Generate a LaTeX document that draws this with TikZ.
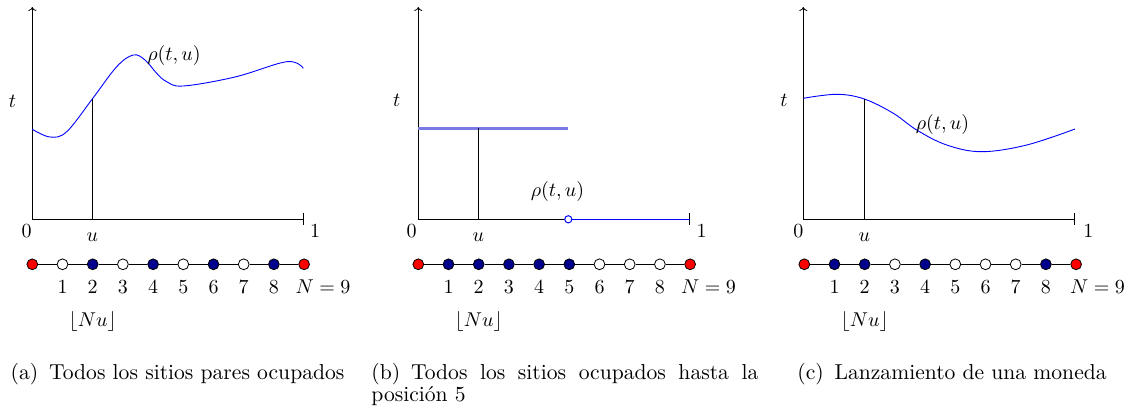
\documentclass[tikz,border=0pt]{standalone}
\usetikzlibrary{arrows.meta}
\definecolor{navy}{rgb}{0,0,0.55}
\definecolor{lightblue}{rgb}{0.48,0.48,0.9}
\begin{document}
\begin{tikzpicture}[x=0.5pt,y=-0.5pt,
  axis/.style={line width=0.4pt},
  xaxis/.style={line width=0.4pt,-{Bar[width=6pt]}},
  yaxis/.style={line width=0.4pt,-{To[length=2pt,width=4pt]}},
  rho/.style={blue,line width=0.45pt},
  site/.style={circle,draw=black,line width=0.4pt,minimum size=5.4pt,inner sep=0pt},
  occ/.style={site,fill=navy},
  emp/.style={site,fill=white},
  bnd/.style={site,fill=red},
  lab/.style={inner sep=1pt},
  captext/.style={inner sep=0pt,anchor=base,font=\fontsize{10.8}{13}\selectfont}
]
\useasboundingbox (0,0) rectangle (1124,413);

% ================= panel (a) =================
\coordinate (Oa) at (32.3,219.3);
\coordinate (Ya) at (32.3,7);
\coordinate (Xa) at (304,219.3);
\draw[yaxis] (Oa) -- (Ya);
\draw[xaxis] (Oa) -- (Xa);
\draw[rho] plot[smooth,tension=0.6] coordinates {(32.3,129.3) (50,137) (66.7,131.7) (92.3,99) (116.7,66.7) (133.3,55) (145,60) (156.7,73.3) (166.7,81.7) (183.3,86) (235,77) (286.7,61.7) (303.3,68.3)};
\coordinate (ua) at (92.3,219.3);
\coordinate (pa) at (92.3,99);
\draw[axis] (ua) -- (pa);
\node[lab] (ta) at (12.5,101) {$t$};
\node[lab] (ra) at (174,55) {$\rho(t,u)$};
\node[lab] (za) at (26.7,231) {$0$};
\node[lab] (oa) at (315,231) {$1$};
\node[lab] (uLa) at (92.3,237) {$u$};
\foreach \i/\s in {0/bnd,1/emp,2/occ,3/emp,4/occ,5/emp,6/occ,7/emp,8/occ,9/bnd}
  \node[\s] (a\i) at ({32.3+30.2*\i},264.3) {};
\foreach \i [evaluate=\i as \j using int(\i+1)] in {0,...,8}
  \draw[axis] (a\i) -- (a\j);
\foreach \i in {1,...,8}
  \node[lab] (na\i) at ({32.3+30.2*\i},286.7) {$\i$};
\node[lab] (nNa) at (323,286.7) {$N=9$};
\node[lab] (fa) at (92.7,321.7) {$\lfloor Nu\rfloor$};
\node[captext] (ca) at (177.5,379) {(a)\enspace Todos los sitios pares ocupados};

% ================= panel (b) =================
\coordinate (Ob) at (418.3,219.3);
\coordinate (Yb) at (418.3,7);
\coordinate (Xb) at (690,219.3);
\draw[yaxis] (Ob) -- (Yb);
\draw[xaxis] (Ob) -- (Xb);
\coordinate (hb0) at (418.3,128.3);
\coordinate (hb1) at (568.3,128.3);
\draw[lightblue,line width=1.4pt] (hb0) -- (hb1);
\coordinate (ub) at (478.3,219.3);
\coordinate (pb) at (478.3,128.3);
\draw[axis] (ub) -- (pb);
\node[circle,draw=blue,fill=white,line width=0.5pt,minimum size=3.6pt,inner sep=0pt] (cb) at (568.3,219.3) {};
\draw[rho] (cb) -- (Xb);
\node[lab] (tb) at (396.7,100) {$t$};
\node[lab] (rb) at (557.5,191) {$\rho(t,u)$};
\node[lab] (zb) at (411.7,231) {$0$};
\node[lab] (ob) at (701.7,231) {$1$};
\node[lab] (uLb) at (478.3,237) {$u$};
\foreach \i/\s in {0/bnd,1/occ,2/occ,3/occ,4/occ,5/occ,6/emp,7/emp,8/emp,9/bnd}
  \node[\s] (b\i) at ({418.3+30.2*\i},264.3) {};
\foreach \i [evaluate=\i as \j using int(\i+1)] in {0,...,8}
  \draw[axis] (b\i) -- (b\j);
\foreach \i in {1,...,8}
  \node[lab] (nb\i) at ({418.3+30.2*\i},286.7) {$\i$};
\node[lab] (nNb) at (708.5,286.7) {$N=9$};
\node[lab] (fb) at (478.7,321.7) {$\lfloor Nu\rfloor$};
\node[inner sep=0pt,anchor=base west,text width=193.5pt,align=justify,font=\fontsize{10.8}{11}\selectfont] (cbb) at (371,379)
  {(b)\enspace Todos los sitios ocupados hasta la\linebreak posición 5};

% ================= panel (c) =================
\coordinate (Oc) at (803.3,219.3);
\coordinate (Yc) at (803.3,7);
\coordinate (Xc) at (1075,219.3);
\draw[yaxis] (Oc) -- (Yc);
\draw[xaxis] (Oc) -- (Xc);
\draw[rho] plot[smooth,tension=0.6] coordinates {(803.3,98.3) (836.7,94.3) (864.3,99) (893.3,113.3) (916.7,130) (946.7,145) (981.7,151.7) (1026.7,145) (1075,129)};
\coordinate (uc) at (864.3,219.3);
\coordinate (pc) at (864.3,99);
\draw[axis] (uc) -- (pc);
\node[lab] (tc) at (784,100) {$t$};
\node[lab] (rc) at (942.5,124) {$\rho(t,u)$};
\node[lab] (zc) at (798.3,231) {$0$};
\node[lab] (oc) at (1088.3,231) {$1$};
\node[lab] (uLc) at (864.3,237) {$u$};
\foreach \i/\s in {0/bnd,1/occ,2/occ,3/emp,4/occ,5/emp,6/emp,7/emp,8/occ,9/bnd}
  \node[\s] (c\i) at ({804.3+30.2*\i},264.3) {};
\foreach \i [evaluate=\i as \j using int(\i+1)] in {0,...,8}
  \draw[axis] (c\i) -- (c\j);
\foreach \i in {1,...,8}
  \node[lab] (nc\i) at ({804.3+30.2*\i},286.7) {$\i$};
\node[lab] (nNc) at (1097.5,286.7) {$N=9$};
\node[lab] (fc) at (864.7,321.7) {$\lfloor Nu\rfloor$};
\node[captext] (ccc) at (952,379) {(c)\enspace Lanzamiento de una moneda};
\end{tikzpicture}
\end{document}
